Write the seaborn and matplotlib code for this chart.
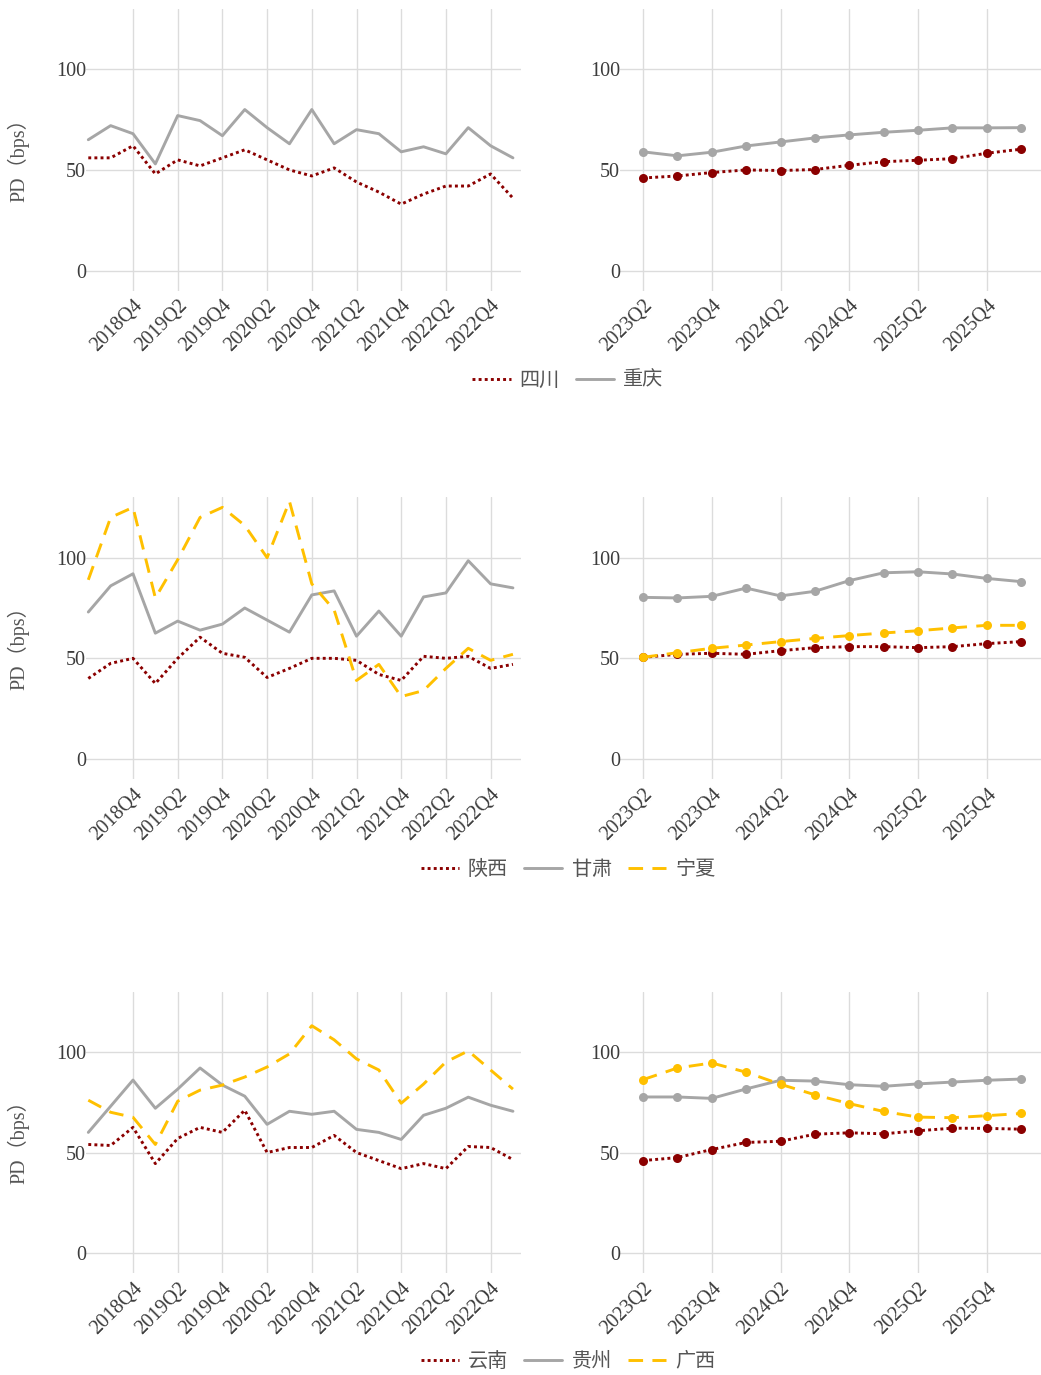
import numpy as np
import pandas as pd
import matplotlib
matplotlib.use('Agg')
import matplotlib.pyplot as plt
from matplotlib.lines import Line2D
import seaborn as sns

# quarters
hist_quarters = ['2018Q2', '2018Q3', '2018Q4', '2019Q1', '2019Q2', '2019Q3', '2019Q4',
                 '2020Q1', '2020Q2', '2020Q3', '2020Q4', '2021Q1', '2021Q2', '2021Q3',
                 '2021Q4', '2022Q1', '2022Q2', '2022Q3', '2022Q4', '2023Q1']
fc_quarters = ['2023Q2', '2023Q3', '2023Q4', '2024Q1', '2024Q2', '2024Q3',
               '2024Q4', '2025Q1', '2025Q2', '2025Q3', '2025Q4', '2026Q1']

# row 1
sichuan_hist = [56, 56, 62, 48, 55, 52, 56, 60, 55, 50, 47, 51, 44, 39, 33, 38, 42, 42, 48, 36]
chongqing_hist = [65, 72, 68, 53, 77, 74.5, 67, 80, 71, 63, 80, 63, 70, 68, 59, 61.5, 58, 71, 62, 56]
sichuan_fc = [46, 47, 48.7, 50, 49.7, 50.2, 52.3, 54.1, 54.8, 55.6, 58.3, 60.3]
chongqing_fc = [59, 57, 58.8, 61.9, 63.9, 65.9, 67.4, 68.7, 69.7, 70.9, 70.9, 71]

# row 2
shaanxi_hist = [40, 47.5, 50, 37.5, 50, 60.5, 52.5, 50.5, 40.5, 45, 50, 50, 49, 42, 39, 51, 50, 51, 45, 47]
gansu_hist = [73, 86, 92, 62.5, 68.5, 64, 67, 75, 69, 63, 81.5, 83.5, 61, 73.5, 61, 80.5, 82.5, 98.5, 87, 85]
ningxia_hist = [89, 120, 125, 80, 99, 120, 125, 116, 100, 128, 87, 74, 39, 47, 31, 34, 45, 55, 49, 52]
shaanxi_fc = [50.5, 52, 52.5, 52, 53.8, 55.3, 55.8, 55.8, 55.3, 55.8, 57.3, 58.3]
gansu_fc = [80.3, 80, 80.8, 84.9, 81, 83.3, 88.6, 92.5, 93, 91.9, 89.7, 88.1]
ningxia_fc = [50.5, 52.8, 55, 56.6, 58.3, 59.9, 61.3, 62.6, 63.7, 65.1, 66.4, 66.4]

# row 3
yunnan_hist = [54, 53.5, 62.5, 44.5, 57, 62.5, 60, 71, 50, 52.5, 52.5, 58.5, 50, 46, 42, 44.5, 42, 53, 52.5, 46.5]
guizhou_hist = [60, 73, 86, 72, 81.5, 92, 83.5, 78, 64, 70.5, 69, 70.5, 61.5, 60, 56.5, 68.5, 72, 77.5, 73.5, 70.5]
guangxi_hist = [76, 70, 67.5, 54, 75.5, 81, 83.5, 87.5, 92.5, 99, 113, 106, 96.5, 91, 74.5, 84, 95, 100.5, 91, 81.5]
yunnan_fc = [46, 47.5, 51.5, 55, 55.6, 59.1, 59.8, 59.3, 60.8, 62.1, 62, 61.6]
guizhou_fc = [77.6, 77.6, 76.9, 81.6, 85.9, 85.5, 83.7, 82.9, 84.1, 85, 85.9, 86.5]
guangxi_fc = [86.2, 92, 94.5, 89.9, 83.9, 78.7, 74.3, 70.4, 67.6, 67.3, 68.3, 69.4]

RED, GRAY, GOLD = '#8B0000', '#A6A6A6', '#FFC000'
STYLES = [(RED, (1, 1.1)), (GRAY, ''), (GOLD, (5, 3.2))]

rows = [
    (['四川', '重庆'], [sichuan_hist, chongqing_hist], [sichuan_fc, chongqing_fc]),
    (['陕西', '甘肃', '宁夏'], [shaanxi_hist, gansu_hist, ningxia_hist], [shaanxi_fc, gansu_fc, ningxia_fc]),
    (['云南', '贵州', '广西'], [yunnan_hist, guizhou_hist, guangxi_hist], [yunnan_fc, guizhou_fc, guangxi_fc]),
]

sns.set_style('white')
plt.rcParams['font.family'] = ['Liberation Serif', 'Noto Sans CJK SC']

W, H = 1041, 1375
fig = plt.figure(figsize=(W / 100, H / 100), dpi=100)

row_tops = [8.9, 497.3, 991.5]
row_h = 281.8
legend_y = [381, 870, 1362]
TXT = '#3c3c3c'


def long_df(names, series, quarters):
    frames = []
    for name, vals in zip(names, series):
        frames.append(pd.DataFrame({'idx': np.arange(len(quarters)), 'value': vals, 'region': name}))
    return pd.concat(frames, ignore_index=True)


def style_ax(ax, quarters, tick_idx, xlim):
    ax.set_xlim(*xlim)
    ax.set_ylim(-10, 130)
    ax.set_yticks([0, 50, 100])
    ax.set_xticks(tick_idx)
    ax.set_xticklabels([quarters[i] for i in tick_idx], rotation=45, ha='right',
                       rotation_mode='anchor')
    ax.tick_params(length=0, labelsize=14.5, labelcolor=TXT)
    ax.tick_params(axis='x', pad=4)
    ax.tick_params(axis='y', pad=0)
    ax.grid(True, color='#dcdcdc', lw=1)
    for s in ax.spines.values():
        s.set_visible(False)
    ax.set_xlabel('')
    ax.set_ylabel('')


for r, (names, hist, fc) in enumerate(rows):
    top = row_tops[r]
    b = 1 - (top + row_h) / H
    h = row_h / H
    ax_l = fig.add_axes([86 / W, b, (521 - 86) / W, h])
    ax_r = fig.add_axes([620 / W, b, (1041 - 620) / W, h])

    pal = {n: STYLES[i][0] for i, n in enumerate(names)}
    dsh = {n: STYLES[i][1] for i, n in enumerate(names)}
    mk = {n: 'o' for n in names}

    sns.lineplot(data=long_df(names, hist, hist_quarters), x='idx', y='value', hue='region',
                 style='region', palette=pal, dashes=dsh, linewidth=2.1, legend=False, ax=ax_l)
    sns.lineplot(data=long_df(names, fc, fc_quarters), x='idx', y='value', hue='region',
                 style='region', palette=pal, dashes=dsh, markers=mk, markersize=6.5,
                 markeredgewidth=0, linewidth=2.1, legend=False, ax=ax_r)

    style_ax(ax_l, hist_quarters, list(range(2, 20, 2)),
             ((86 - 88.3) / 22.35, (521 - 88.3) / 22.35))
    style_ax(ax_r, fc_quarters, list(range(0, 12, 2)),
             ((620 - 643) / 34.38, (1041 - 643) / 34.38))

    fig.text(18 / W, 1 - (top + row_h / 2 + 5) / H, 'PD（bps）', rotation=90, ha='center',
             va='center', fontsize=14.5, color='#555555')

    handles = [Line2D([], [], color=STYLES[i][0], lw=2.1,
                      dashes=STYLES[i][1] if STYLES[i][1] else (None, None))
               for i in range(len(names))]
    fig.legend(handles, names, loc='center', bbox_to_anchor=(568 / W, 1 - legend_y[r] / H),
               ncol=len(names), frameon=False, fontsize=14.5, handlelength=1.9,
               handletextpad=0.45, columnspacing=0.8, labelcolor='#555555')

fig.savefig('out.png', dpi=100)
